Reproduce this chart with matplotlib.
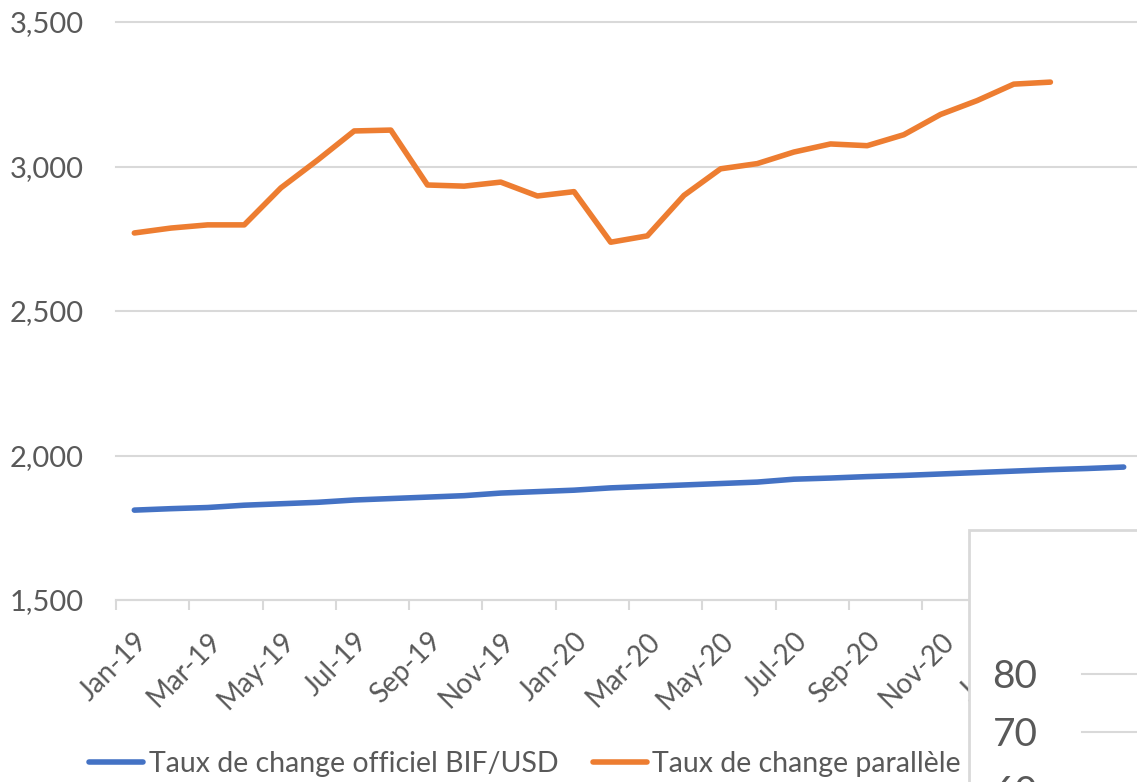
import matplotlib.pyplot as plt
from matplotlib.patches import Rectangle
from matplotlib.ticker import FuncFormatter

plt.rcParams['font.family'] = ['Lato', 'DejaVu Sans']

# Données (BIF par USD, mensuel)
mois = ["Jan-19", "Feb-19", "Mar-19", "Apr-19", "May-19", "Jun-19", "Jul-19",
        "Aug-19", "Sep-19", "Oct-19", "Nov-19", "Dec-19", "Jan-20", "Feb-20",
        "Mar-20", "Apr-20", "May-20", "Jun-20", "Jul-20", "Aug-20", "Sep-20",
        "Oct-20", "Nov-20", "Dec-20", "Jan-21", "Feb-21", "Mar-21", "Apr-21"]

officiel = [1811, 1816, 1820, 1828, 1833, 1838, 1846, 1851, 1856, 1861,
            1870, 1875, 1880, 1888, 1893, 1898, 1903, 1908, 1918, 1922,
            1927, 1931, 1936, 1941, 1946, 1951, 1955, 1960]

parallele = [2770, 2787, 2798, 2798, 2926, 3022, 3123, 3126, 2936, 2932,
             2946, 2898, 2913, 2738, 2760, 2900, 2992, 3010, 3050, 3078,
             3072, 3110, 3180, 3228, 3285, 3292]

y_ticks = [1500, 2000, 2500, 3000, 3500]
encart_ticks = [60, 70, 80]

W, H = 1137, 782
gris = '#595959'
grille = '#d9d9d9'

fig = plt.figure(figsize=(W / 100, H / 100), dpi=100)
ax = fig.add_axes([116 / W, 1 - 600 / H, (1142 - 116) / W, (600 - 22) / H])

ax.plot(range(len(officiel)), officiel, color='#4472C4', lw=4,
        solid_capstyle='round', label="Taux de change officiel BIF/USD")
ax.plot(range(len(parallele)), parallele, color='#ED7D31', lw=4,
        solid_capstyle='round', label="Taux de change parallèle BIF/USD")

ax.set_xlim(-0.5, len(mois) - 0.5)
ax.set_ylim(1500, 3500)
ax.set_yticks(y_ticks)
ax.yaxis.set_major_formatter(FuncFormatter(lambda v, p: f"{v:,.0f}"))
ax.grid(axis='y', color=grille, lw=1.5)
ax.set_axisbelow(True)
for gl in ax.get_ygridlines():
    gl.set_clip_on(False)
ax.tick_params(axis='y', length=0, pad=23, labelsize=21, labelcolor=gris)

for s in ['top', 'right', 'left']:
    ax.spines[s].set_visible(False)
ax.spines['bottom'].set_color(grille)
ax.spines['bottom'].set_linewidth(1.5)

# graduations entre les catégories, étiquettes tous les deux mois
ax.set_xticks([i - 0.5 for i in range(0, len(mois), 2)])
ax.tick_params(axis='x', which='major', length=7, width=1.5, color=grille,
               labelbottom=False)
pos = list(range(0, len(mois), 2))
ax.set_xticks(pos, [mois[i] for i in pos], minor=True)
ax.tick_params(axis='x', which='minor', length=0, pad=20, labelsize=20,
               labelcolor=gris)
for lbl in ax.get_xticklabels(minor=True):
    lbl.set_rotation(45)
    lbl.set_ha('right')
    lbl.set_va('top')
    lbl.set_rotation_mode('anchor')

fig.legend(loc='center left', bbox_to_anchor=(89 / W, 1 - 764 / H), ncol=2,
           frameon=False, fontsize=20.5, handlelength=1.9, handletextpad=0.2,
           columnspacing=1.2, borderpad=0, borderaxespad=0, labelcolor=gris)

# encadré d'un autre graphique qui recouvre le coin
fig.add_artist(Rectangle((969 / W, -0.1), 0.5, (1 - 530 / H) + 0.1,
                         transform=fig.transFigure, facecolor='white',
                         edgecolor=grille, lw=2, zorder=5.5))

h2 = 464 / H
ax2 = fig.add_axes([1082 / W, (1 - 674 / H) - h2, 0.2, h2])
ax2.set_zorder(6)
ax2.set_ylim(0, 80)
ax2.set_yticks(encart_ticks)
ax2.set_xticks([])
ax2.grid(axis='y', color=grille, lw=1.5)
for gl in ax2.get_ygridlines():
    gl.set_clip_on(False)
ax2.tick_params(axis='y', length=0, pad=32, labelsize=28, labelcolor=gris)
for s in ax2.spines.values():
    s.set_visible(False)

fig.savefig('out.png', dpi=100)
